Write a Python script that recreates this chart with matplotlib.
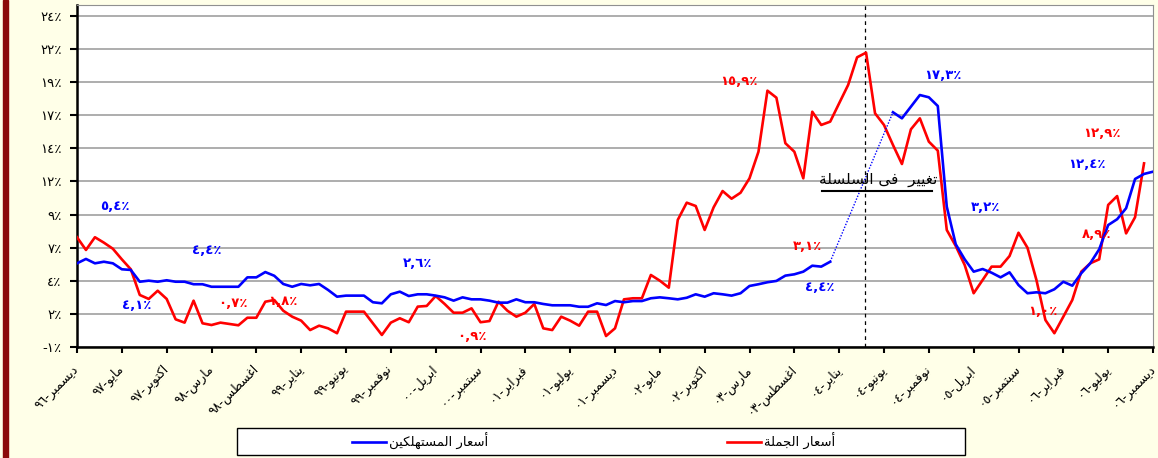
import numpy as np
import matplotlib
matplotlib.use('Agg')
import matplotlib.pyplot as plt
from matplotlib.patches import Rectangle
from matplotlib.lines import Line2D
from matplotlib.ticker import FuncFormatter
from matplotlib.transforms import ScaledTranslation

plt.rcParams['font.family'] = ['DejaVu Sans']

# أشكال الحروف العربية (معزول، نهائي، ابتدائي، وسطي)
FORMS = {
    'ا': ('\uFE8D', '\uFE8E', None, None),
    'أ': ('\uFE83', '\uFE84', None, None),
    'ب': ('\uFE8F', '\uFE90', '\uFE91', '\uFE92'),
    'ة': ('\uFE93', '\uFE94', None, None),
    'ت': ('\uFE95', '\uFE96', '\uFE97', '\uFE98'),
    'ج': ('\uFE9D', '\uFE9E', '\uFE9F', '\uFEA0'),
    'د': ('\uFEA9', '\uFEAA', None, None),
    'ر': ('\uFEAD', '\uFEAE', None, None),
    'س': ('\uFEB1', '\uFEB2', '\uFEB3', '\uFEB4'),
    'ط': ('\uFEC1', '\uFEC2', '\uFEC3', '\uFEC4'),
    'ع': ('\uFEC9', '\uFECA', '\uFECB', '\uFECC'),
    'غ': ('\uFECD', '\uFECE', '\uFECF', '\uFED0'),
    'ف': ('\uFED1', '\uFED2', '\uFED3', '\uFED4'),
    'ك': ('\uFED9', '\uFEDA', '\uFEDB', '\uFEDC'),
    'ل': ('\uFEDD', '\uFEDE', '\uFEDF', '\uFEE0'),
    'م': ('\uFEE1', '\uFEE2', '\uFEE3', '\uFEE4'),
    'ن': ('\uFEE5', '\uFEE6', '\uFEE7', '\uFEE8'),
    'ه': ('\uFEE9', '\uFEEA', '\uFEEB', '\uFEEC'),
    'و': ('\uFEED', '\uFEEE', None, None),
    'ى': ('\uFEEF', '\uFEF0', None, None),
    'ي': ('\uFEF1', '\uFEF2', '\uFEF3', '\uFEF4'),
}
AR_DIGITS = '٠١٢٣٤٥٦٧٨٩'


def shape(text):
    out = []
    for i, ch in enumerate(text):
        if ch not in FORMS:
            out.append(ch)
            continue
        prev = text[i - 1] if i > 0 else ''
        nxt = text[i + 1] if i + 1 < len(text) else ''
        join_prev = prev in FORMS and FORMS[prev][2] is not None
        join_next = nxt in FORMS and FORMS[ch][2] is not None
        iso, fin, ini, med = FORMS[ch]
        if join_prev and join_next:
            out.append(med)
        elif join_prev:
            out.append(fin)
        elif join_next:
            out.append(ini)
        else:
            out.append(iso)
    return ''.join(reversed(out))


def ar_num(s):
    return ''.join(AR_DIGITS[int(c)] if c.isdigit() else c for c in s)


# البيانات: التغير السنوي (%) شهرياً من ديسمبر ٩٦ إلى ديسمبر ٠٦
consumer = [
    5.32, 5.65, 5.32, 5.44, 5.32, 4.87, 4.82, 3.93, 4.01, 3.93, 4.04, 3.93, 3.93, 3.74, 3.74,
    3.55, 3.55, 3.55, 3.55, 4.26, 4.26, 4.66, 4.38, 3.76, 3.55, 3.76, 3.66, 3.76, 3.31, 2.80,
    2.88, 2.88, 2.88, 2.38, 2.30, 2.98, 3.18, 2.85, 2.98, 2.98, 2.88, 2.75, 2.50, 2.75, 2.60,
    2.60, 2.50, 2.35, 2.35, 2.60, 2.38, 2.38, 2.25, 2.15, 2.15, 2.15, 2.04, 2.04, 2.30, 2.17,
    2.47, 2.38, 2.47, 2.47, 2.68, 2.75, 2.68, 2.60, 2.72, 2.98, 2.80, 3.06, 2.98, 2.88, 3.06,
    3.61, 3.74, 3.89, 3.99, 4.39, 4.49, 4.69, 5.14, 5.07, 5.44, np.nan, np.nan, np.nan, np.nan, np.nan,
    np.nan, 16.73, 16.27, 17.15, 18.03, 17.86, 17.20, 9.60, 6.76, 5.62, 4.69, 4.89, 4.61, 4.26, 4.64,
    3.68, 3.06, 3.13, 3.06, 3.36, 3.93, 3.63, 4.57, 5.32, 6.38, 8.21, 8.65, 9.48, 11.69, 12.07, 12.24,
]
wholesale = [
    7.29, 6.33, 7.29, 6.88, 6.42, 5.62, 4.87, 2.93, 2.63, 3.25, 2.63, 1.09, 0.84, 2.50, 0.79,
    0.66, 0.84, 0.74, 0.64, 1.21, 1.21, 2.42, 2.55, 1.74, 1.29, 0.99, 0.28, 0.61, 0.41, 0.04,
    1.67, 1.67, 1.67, 0.79, -0.09, 0.84, 1.17, 0.87, 2.05, 2.10, 2.85, 2.25, 1.59, 1.59, 1.92,
    0.87, 0.96, 2.42, 1.74, 1.29, 1.59, 2.25, 0.41, 0.28, 1.29, 0.99, 0.61, 1.67, 1.67, -0.17,
    0.41, 2.60, 2.68, 2.68, 4.44, 4.01, 3.48, 8.60, 9.90, 9.65, 7.84, 9.55, 10.78, 10.20, 10.65,
    11.74, 13.75, 18.36, 17.83, 14.39, 13.75, 11.74, 16.77, 15.77, 16.02, 17.41, 18.79, 20.88, 21.23, 16.65,
    15.77, 14.26, 12.82, 15.44, 16.27, 14.51, 13.83, 7.84, 6.63, 5.19, 3.06, 4.06, 5.07, 5.07, 5.87,
    7.63, 6.50, 4.06, 1.04, 0.04, 1.29, 2.55, 4.69, 5.32, 5.62, 9.73, 10.40, 7.58, 8.80, 12.87, np.nan,
]

tick_months = ['ديسمبر', 'مايو', 'اكتوبر', 'مارس', 'اغسطس', 'يناير', 'يونيو', 'نوفمبر', 'ابريل',
               'سبتمبر', 'فبراير', 'يوليو', 'ديسمبر', 'مايو', 'اكتوبر', 'مارس', 'اغسطس', 'يناير',
               'يونيو', 'نوفمبر', 'ابريل', 'سبتمبر', 'فبراير', 'يوليو', 'ديسمبر']
tick_years = ['96', '97', '97', '98', '98', '99', '99', '99', '00', '00', '01', '01', '01', '02',
              '02', '03', '03', '04', '04', '04', '05', '05', '06', '06', '06']

# تسميات القيم على المنحنيات
note_text = ['٥,٤٪', '٤,١٪', '٤,٤٪', '٠,٧٪', '١,٨٪', '٢,٦٪', '٠,٩٪', '١٥,٩٪', '٣,١٪', '٤,٤٪',
             '١٧,٣٪', '٣,٢٪', '١٢,٩٪', '١٢,٤٪', '٨,٩٪', '١,٠٪']
note_series = ['c', 'c', 'c', 'w', 'w', 'c', 'w', 'w', 'w', 'c', 'c', 'c', 'w', 'c', 'w', 'w']
note_x = [4.2, 6.7, 14.5, 17.4, 23.0, 38.0, 44.0, 73.8, 81.5, 82.8, 96.6, 101.3, 114.3, 112.6, 113.7, 107.7]
note_y = [9.6, 2.1, 6.27, 2.3, 2.42, 5.32, -0.22, 19.04, 6.58, 3.51, 19.47, 9.52, 15.14, 12.75, 7.53, 1.67]

series_break = 87.9

BLUE = '#0000FF'
RED = '#FF0000'

fig = plt.figure(figsize=(11.58, 4.58), dpi=100, facecolor='#FFFFE8')
fig.patches.append(Rectangle((3 / 1158, 0), 5 / 1158, 1, transform=fig.transFigure,
                             color='#8B0A0A', zorder=0))
ax = fig.add_axes([77 / 1158, 1 - 347 / 458, (1153 - 77) / 1158, (347 - 5) / 458])
ax.set_facecolor('white')

x = np.arange(len(consumer))
cons = np.array(consumer)
whol = np.array(wholesale)

ax.plot(x, whol, color=RED, lw=1.9, zorder=3)
ax.plot(x, cons, color=BLUE, lw=1.9, zorder=4)

# وصل فجوة السلسلة بخط منقط
nan_idx = np.where(np.isnan(cons))[0]
g0, g1 = nan_idx[0] - 1, nan_idx[-1] + 1
ax.plot([x[g0], x[g1]], [cons[g0], cons[g1]], color=BLUE, lw=1.0, ls=(0, (1, 1.2)), zorder=4)

ax.axvline(series_break, color='black', lw=0.9, ls=(0, (3, 3)), zorder=2)

ax.text(89.3, 11.05, shape('تغيير  فى السلسلة'), ha='center', va='bottom', fontsize=11, zorder=5)
ax.plot([83.1, 95.4], [10.78, 10.78], color='black', lw=1.5, zorder=5)

for t, s, nx, ny in zip(note_text, note_series, note_x, note_y):
    ax.text(nx, ny, t, color=BLUE if s == 'c' else RED, ha='center', va='center',
            fontsize=9.5, fontweight='bold', zorder=6)

ax.set_xlim(0, 120)
ax.set_ylim(-1, 24.83)
ax.set_yticks(np.arange(-1, 24.01, 2.5))


def pct(v, pos):
    r = int(np.floor(abs(v) + 0.5))
    return ('-' if v < 0 else '') + ar_num(str(r)) + '٪'


ax.yaxis.set_major_formatter(FuncFormatter(pct))
ax.set_xticks(np.arange(0, 121, 5))
ax.set_xticklabels([ar_num(y) + '-' + shape(m) for m, y in zip(tick_months, tick_years)],
                   rotation=45, ha='right', va='center', rotation_mode='anchor', fontsize=9)
shift = ScaledTranslation(-4 / 72, 0, fig.dpi_scale_trans)
for lbl in ax.get_xticklabels():
    lbl.set_transform(lbl.get_transform() + shift)
ax.tick_params(axis='y', direction='out', length=5, width=1.5, labelsize=9.5, pad=6)
ax.tick_params(axis='x', direction='out', length=4.5, width=1.5, pad=10)

ax.grid(axis='y', color='#A0A0A0', lw=1.2)
ax.set_axisbelow(True)
for side in ('left', 'bottom'):
    ax.spines[side].set_linewidth(1.8)
    ax.spines[side].set_color('black')
for side in ('top', 'right'):
    ax.spines[side].set_linewidth(0.8)
    ax.spines[side].set_color('#909090')

# وسيلة الإيضاح
W, H = 1158, 458
fig.patches.append(Rectangle((237 / W, 1 - 455 / H), 728 / W, 27 / H, transform=fig.transFigure,
                             facecolor='white', edgecolor='black', lw=1))
ly = 1 - 441.5 / H
fig.add_artist(Line2D([352 / W, 386 / W], [ly, ly], color=BLUE, lw=1.9))
fig.text(389 / W, ly, shape('أسعار المستهلكين'), ha='left', va='center', fontsize=9.5)
fig.add_artist(Line2D([727 / W, 761 / W], [ly, ly], color=RED, lw=1.9))
fig.text(764 / W, ly, shape('أسعار الجملة'), ha='left', va='center', fontsize=9.5)

fig.savefig('out.png', dpi=100, facecolor=fig.get_facecolor())
